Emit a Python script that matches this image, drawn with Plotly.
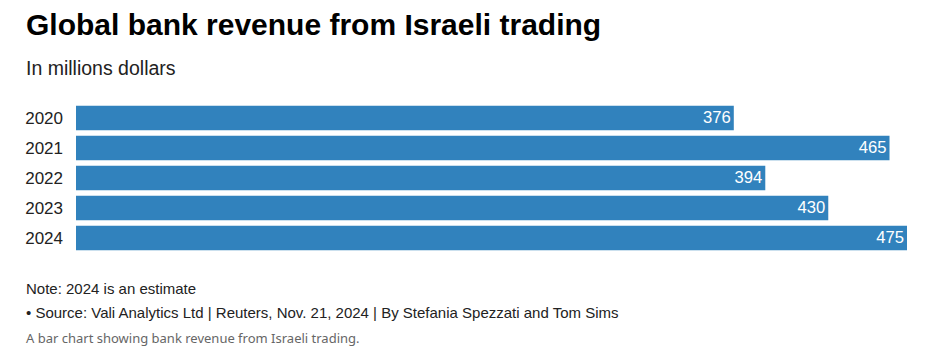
import plotly.graph_objects as go

years = ["2020", "2021", "2022", "2023", "2024"]
revenue = [376, 465, 394, 430, 475]

title = "Global bank revenue from Israeli trading"
subtitle = "In millions dollars"
note = "Note: 2024 is an estimate"
source = "• Source: Vali Analytics Ltd | Reuters, Nov. 21, 2024 | By Stefania Spezzati and Tom Sims"
description = "A bar chart showing bank revenue from Israeli trading."

W, H = 927, 353
ML, MR, MT, MB = 76, 20, 103, 100
PH = H - MT - MB

def py(p):
    return (H - MB - p) / PH

FONT = "Liberation Sans, Arial, sans-serif"

fig = go.Figure(go.Bar(
    y=years, x=revenue, orientation="h",
    marker=dict(color="#3182bd", line=dict(width=0)),
    text=[str(v) for v in revenue],
    textposition="inside", insidetextanchor="end",
    textfont=dict(color="white", size=17, family=FONT),
    hoverinfo="skip",
))

fig.update_layout(
    width=W, height=H,
    margin=dict(l=ML, r=MR, t=MT, b=MB, pad=0),
    paper_bgcolor="white", plot_bgcolor="white",
    bargap=0.18,
    showlegend=False,
    font=dict(family=FONT, color="#222"),
    xaxis=dict(range=[0, 475], visible=False, fixedrange=True),
    yaxis=dict(autorange="reversed", showgrid=False, zeroline=False, showline=False,
               ticks="", tickfont=dict(size=17, color="#222", family=FONT),
               ticklabelstandoff=12, fixedrange=True),
)

anns = [
    dict(text=f"<b>{title}</b>", y=py(24), size=30, color="#000", family=FONT),
    dict(text=subtitle, y=py(68), size=19.5, color="#222", family=FONT),
    dict(text=note, y=py(288), size=15, color="#222", family=FONT),
    dict(text=source, y=py(312), size=15, color="#222", family=FONT),
    dict(text=description, y=py(338), size=13, color="#666", family="Noto Sans, sans-serif"),
]
for a in anns:
    fig.add_annotation(text=a["text"], xref="paper", yref="paper",
                       x=(24 - ML) / (W - ML - MR), y=a["y"],
                       xanchor="left", yanchor="middle", showarrow=False,
                       font=dict(size=a["size"], color=a["color"], family=a["family"]))

fig.write_html("out.html")
